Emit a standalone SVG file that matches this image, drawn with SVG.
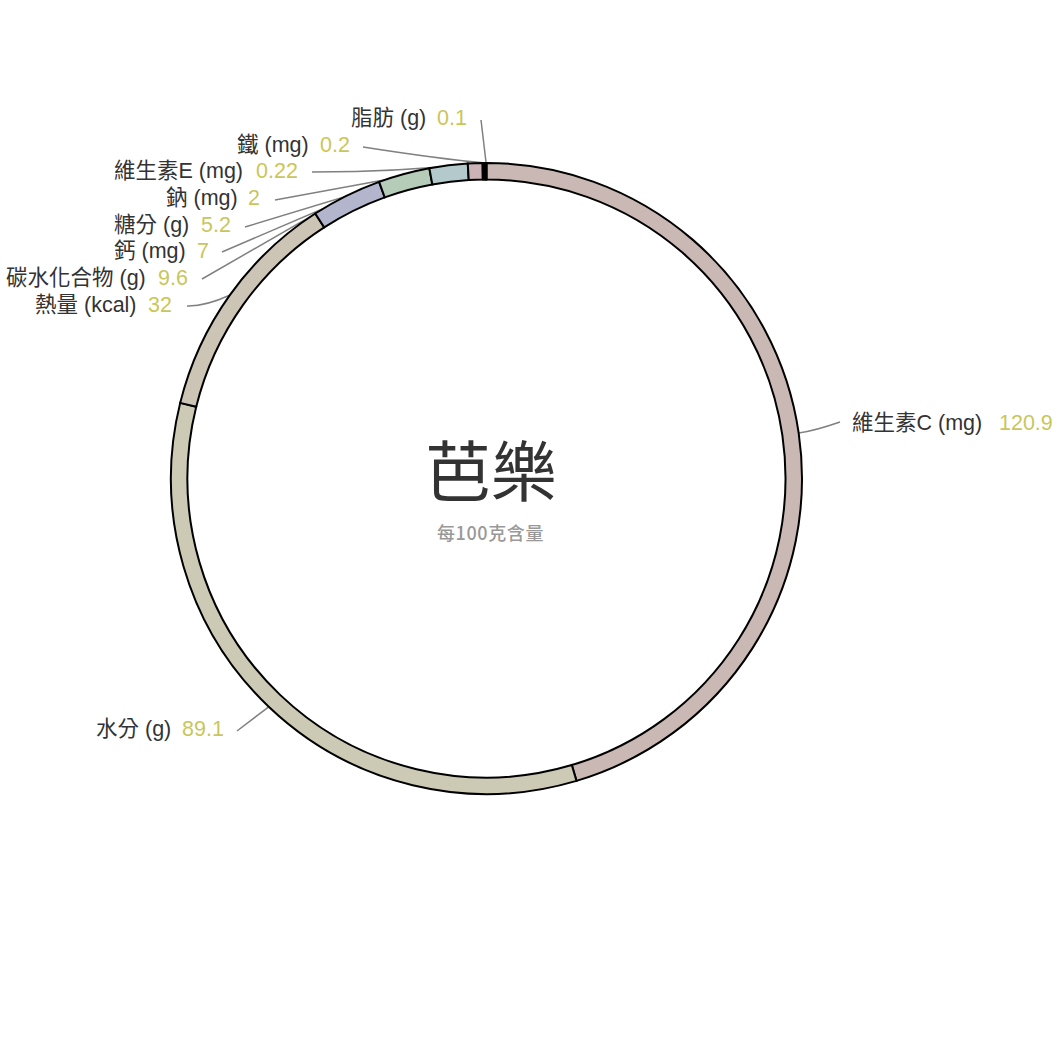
<svg xmlns="http://www.w3.org/2000/svg" width="1060" height="1060" viewBox="0 0 1060 1060">
<style>
.seg{stroke:#000;stroke-width:2;stroke-linejoin:miter}
.lbl{font-family:"Liberation Sans","Noto Sans CJK TC",sans-serif;font-size:21.5px;fill:#333}
.val{font-family:"Liberation Sans","Noto Sans CJK TC",sans-serif;font-size:21.5px;fill:#c9c65a}
.conn{fill:none;stroke:#808080;stroke-width:1.5}
.title{font-family:"Noto Sans CJK TC","Liberation Sans",sans-serif;font-size:66px;fill:#333;text-anchor:middle}
.sub{font-family:"Noto Sans CJK TC","Liberation Sans",sans-serif;font-size:18px;font-weight:500;letter-spacing:0.6px;fill:#999;text-anchor:middle}
</style>
<rect width="1060" height="1060" fill="#fff"/>
<g id="connectors">
<path class="conn" d="M798.7,433.0 Q814,431 840,422"/>
<path class="conn" d="M268.7,706.8 L237,731"/>
<path class="conn" d="M229.6,295.3 Q205,306.5 187,306"/>
<path class="conn" d="M346.3,195.9 L202,279"/>
<path class="conn" d="M403.9,174.0 L222,252"/>
<path class="conn" d="M448.5,165.3 L245,227"/>
<path class="conn" d="M475.2,163.2 L275,200"/>
<path class="conn" d="M483.5,163.0 Q400,172 312,172"/>
<path class="conn" d="M485.0,163.0 Q440,159 363,147"/>
<path class="conn" d="M486.1,163.0 L481,120"/>
</g>
<g id="node-vitc">
<path class="seg" fill="#c9b8b3" d="M486.5,163 A315.5,315.5 0 0 1 576.49,780.89 L571.79,765.08 A299,299 0 0 0 486.5,179.5 Z"/>
<text class="lbl" x="852" y="429.5">維生素C (mg)</text>
<text class="val" x="999" y="429.5">120.9</text>
</g>
<g id="node-water">
<path class="seg" fill="#ccc9b5" d="M576.49,780.89 A315.5,315.5 0 0 1 180.19,402.87 L196.21,406.82 A299,299 0 0 0 571.79,765.08 Z"/>
<text class="lbl" x="96" y="736">水分 (g)</text>
<text class="val" x="182" y="736">89.1</text>
</g>
<g id="node-energy">
<path class="seg" fill="#ccc4b4" d="M180.19,402.87 A315.5,315.5 0 0 1 315.25,213.53 L324.2,227.39 A299,299 0 0 0 196.21,406.82 Z"/>
<text class="lbl" x="35" y="311.5">熱量 (kcal)</text>
<text class="val" x="148" y="311.5">32</text>
</g>
<g id="node-carb">
<path class="seg" fill="#b3b5cc" d="M315.25,213.53 A315.5,315.5 0 0 1 379.12,181.84 L384.74,197.35 A299,299 0 0 0 324.2,227.39 Z"/>
<text class="lbl" x="6" y="284.8">碳水化合物 (g)</text>
<text class="val" x="158" y="284.8">9.6</text>
</g>
<g id="node-calcium">
<path class="seg" fill="#b5ccb9" d="M379.12,181.84 A315.5,315.5 0 0 1 429.35,168.22 L432.34,184.45 A299,299 0 0 0 384.74,197.35 Z"/>
<text class="lbl" x="114" y="258.2">鈣 (mg)</text>
<text class="val" x="197" y="258.2">7</text>
</g>
<g id="node-sugar">
<path class="seg" fill="#b3c9cc" d="M429.35,168.22 A315.5,315.5 0 0 1 467.76,163.56 L468.74,180.03 A299,299 0 0 0 432.34,184.45 Z"/>
<text class="lbl" x="114" y="231.6">糖分 (g)</text>
<text class="val" x="201" y="231.6">5.2</text>
</g>
<g id="node-sodium">
<path class="seg" fill="#ccb3b7" d="M467.76,163.56 A315.5,315.5 0 0 1 482.63,163.02 L482.83,179.52 A299,299 0 0 0 468.74,180.03 Z"/>
<text class="lbl" x="166" y="205">鈉 (mg)</text>
<text class="val" x="248" y="205">2</text>
</g>
<g id="node-vite">
<path class="seg" fill="#ccc4b3" d="M482.63,163.02 A315.5,315.5 0 0 1 484.27,163.01 L484.39,179.51 A299,299 0 0 0 482.83,179.52 Z"/>
<text class="lbl" x="114" y="178.4">維生素E (mg)</text>
<text class="val" x="256" y="178.4">0.22</text>
</g>
<g id="node-iron">
<path class="seg" fill="#b3ccc4" d="M484.27,163.01 A315.5,315.5 0 0 1 485.76,163 L485.8,179.5 A299,299 0 0 0 484.39,179.51 Z"/>
<text class="lbl" x="237" y="151.8">鐵 (mg)</text>
<text class="val" x="320" y="151.8">0.2</text>
</g>
<g id="node-fat">
<path class="seg" fill="#c4b3cc" d="M485.76,163 A315.5,315.5 0 0 1 486.5,163 L486.5,179.5 A299,299 0 0 0 485.8,179.5 Z"/>
<text class="lbl" x="351" y="125.2">脂肪 (g)</text>
<text class="val" x="437" y="125.2">0.1</text>
</g>
<g id="center">
<text class="title" x="491" y="496">芭樂</text>
<text class="sub" x="490.5" y="540">每100克含量</text>
</g>
</svg>
